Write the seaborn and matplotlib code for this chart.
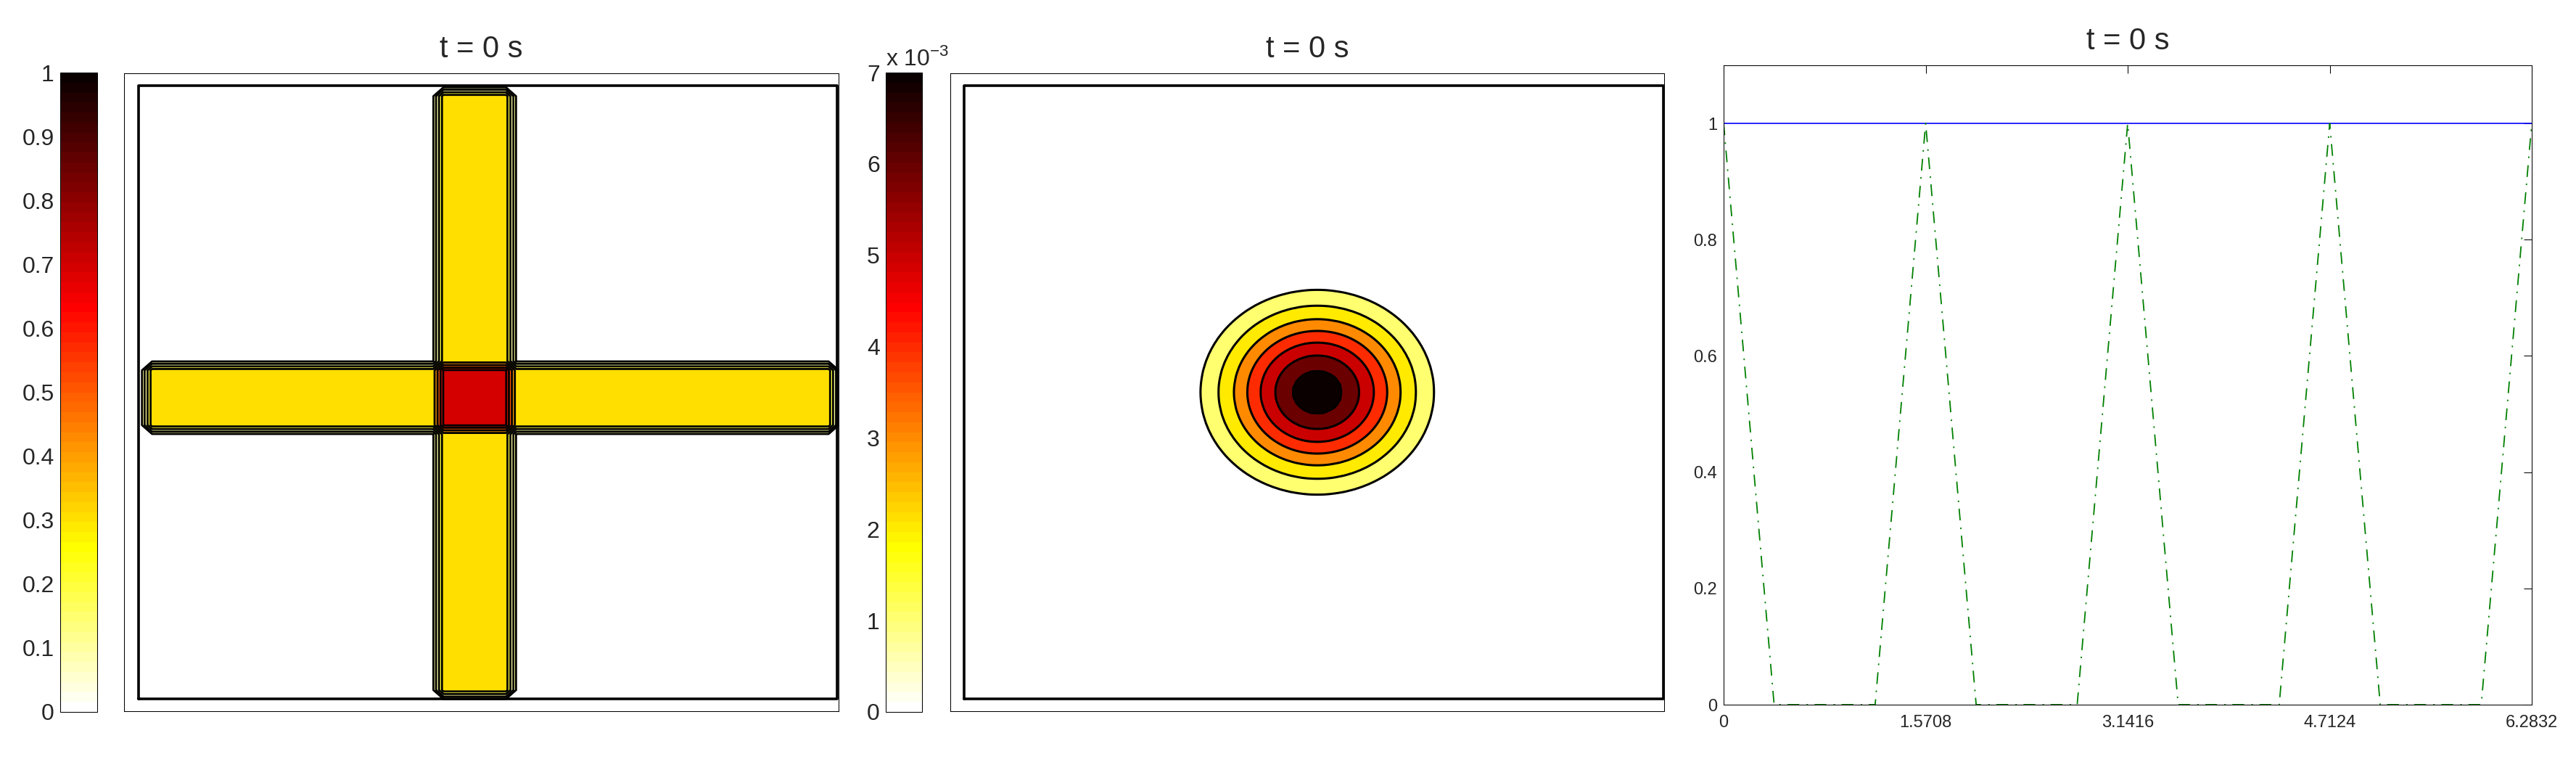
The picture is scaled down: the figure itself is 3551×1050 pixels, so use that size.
import numpy as np
import matplotlib
matplotlib.use("Agg")
import matplotlib.pyplot as plt
import matplotlib.ticker as mticker
from matplotlib.colors import Normalize
from matplotlib.cm import ScalarMappable
import seaborn as sns

sns.set_theme(style="white")
plt.rcParams["font.family"] = ["Liberation Sans", "DejaVu Sans"]
plt.rcParams["mathtext.fontset"] = "custom"
plt.rcParams["mathtext.rm"] = "Liberation Sans"
plt.rcParams["axes.edgecolor"] = "black"
plt.rcParams["axes.linewidth"] = 0.75

TITLE = "t = 0 s"

# panel 1: two crossing bars, sampled on a coarse grid
GRID_N = 68
GRID_STEP = 0.0149
GRID_X0 = 0.0044
GRID_Y0 = -0.0006
BAR_VALUE = 0.35
VBAR_COLS = [29, 35]
VBAR_ROWS = [1, 66]
HBAR_COLS = [1, 66]
HBAR_ROWS = [30, 36]
CROSS_LEVELS = [0.01, 0.1, 0.2, 0.3, 0.4, 0.5, 0.6, 0.69]
CROSS_FILL_VALUES = [0.1, 0.1, 0.2, 0.3, 0.4, 0.5, 0.6, 0.7]
CROSS_TICKS = [0, 0.1, 0.2, 0.3, 0.4, 0.5, 0.6, 0.7, 0.8, 0.9, 1]

BLOB_CENTER = [0.505, 0.5]
BLOB_RADII = [0.0, 0.035, 0.060, 0.081, 0.100, 0.119, 0.141, 0.167, 0.19]
BLOB_VALUES = [7.6e-3, 7e-3, 6e-3, 5e-3, 4e-3, 3e-3, 2e-3, 1e-3, 0.0]
BLOB_LEVELS = [1e-3, 2e-3, 3e-3, 4e-3, 5e-3, 6e-3, 7e-3]
BLOB_TICKS = [0, 1e-3, 2e-3, 3e-3, 4e-3, 5e-3, 6e-3, 7e-3]
BLOB_GRID_N = 241

# panel 3: lines
BASE_X = [0, 6.2832]
BASE_Y = [1, 1]
WAVE_X = [0, 0.3927, 1.1781, 1.5708, 1.9635, 2.7489, 3.1416,
          3.5343, 4.3197, 4.7124, 5.1051, 5.8905, 6.2832]
WAVE_Y = [1, 0, 0, 1, 0, 0, 1, 0, 0, 1, 0, 0, 1]
X_TICKS = [0, 1.5708, 3.1416, 4.7124, 6.2832]
X_TICK_LABELS = ["0", "1.5708", "3.1416", "4.7124", "6.2832"]
Y_TICKS = [0, 0.2, 0.4, 0.6, 0.8, 1]
Y_TICK_LABELS = ["0", "0.2", "0.4", "0.6", "0.8", "1"]

W, H = 3551, 1050
fig = plt.figure(figsize=(W / 100, H / 100), dpi=100)
fig.patch.set_facecolor("white")


def box(x0, y0, x1, y1):
    return [x0 / W, 1 - y1 / H, (x1 - x0) / W, (y1 - y0) / H]


cmap = matplotlib.colormaps["hot_r"].resampled(64)


def style_field_axes(ax):
    ax.set_xticks([])
    ax.set_yticks([])
    for s in ax.spines.values():
        s.set_linewidth(0.75)
        s.set_color("black")
    ax.plot([0, 1, 1, 0, 0], [0, 0, 1, 1, 0], color="black", lw=2.6)
    ax.set_title(TITLE, fontsize=30, pad=16)


def style_cbar(cb, fmt):
    cax = cb.ax
    cax.yaxis.set_ticks_position("both")
    cax.tick_params(direction="in", length=4, width=0.75, color="black",
                    labelleft=True, labelright=False, labelsize=23, pad=6)
    cax.yaxis.set_major_formatter(mticker.FuncFormatter(fmt))
    cb.outline.set_linewidth(0.75)
    cb.outline.set_edgecolor("black")


# ---------- panel 1
gx = GRID_X0 + GRID_STEP * np.arange(GRID_N)
gy = GRID_Y0 + GRID_STEP * np.arange(GRID_N)
Z = np.zeros((GRID_N, GRID_N))
Z[VBAR_ROWS[0]:VBAR_ROWS[1] + 1, VBAR_COLS[0]:VBAR_COLS[1] + 1] += BAR_VALUE
Z[HBAR_ROWS[0]:HBAR_ROWS[1] + 1, HBAR_COLS[0]:HBAR_COLS[1] + 1] += BAR_VALUE

norm1 = Normalize(0, 1)
ax1 = fig.add_axes(box(171, 101, 1156, 980))
ax1.contourf(gx, gy, Z, levels=CROSS_LEVELS + [10],
             colors=[cmap(norm1(v)) for v in CROSS_FILL_VALUES])
ax1.contour(gx, gy, Z, levels=CROSS_LEVELS, colors="black", linewidths=2.0)
ax1.set_xlim(-0.0208, 1.0021)
ax1.set_ylim(-0.0201, 1.0201)
style_field_axes(ax1)

cax1 = fig.add_axes(box(83, 100, 134, 981))
cb1 = fig.colorbar(ScalarMappable(norm=norm1, cmap=cmap), cax=cax1, ticks=CROSS_TICKS)
style_cbar(cb1, lambda v, p: f"{v:g}")

# ---------- panel 2
bx = np.linspace(0, 1, BLOB_GRID_N)
XX, YY = np.meshgrid(bx, bx)
R = np.hypot(XX - BLOB_CENTER[0], YY - BLOB_CENTER[1])
B = np.interp(R, BLOB_RADII, BLOB_VALUES)

norm2 = Normalize(0, 7e-3)
ax2 = fig.add_axes(box(1310, 101, 2294, 980))
ax2.contourf(bx, bx, B, levels=BLOB_LEVELS + [1.0],
             colors=[cmap(norm2(v)) for v in BLOB_LEVELS])
ax2.contour(bx, bx, B, levels=BLOB_LEVELS, colors="black", linewidths=2.2)
ax2.set_xlim(-0.0197, 1.001)
ax2.set_ylim(-0.0201, 1.0201)
style_field_axes(ax2)

cax2 = fig.add_axes(box(1221, 100, 1271, 981))
cb2 = fig.colorbar(ScalarMappable(norm=norm2, cmap=cmap), cax=cax2, ticks=BLOB_TICKS)
style_cbar(cb2, lambda v, p: f"{v * 1e3:g}")
fig.text(1221 / W, 1 - 90 / H, r"x 10$^{\mathrm{-3}}$", fontsize=23,
         ha="left", va="baseline")

# ---------- panel 3
ax3 = fig.add_axes(box(2376, 90, 3490, 971))
sns.lineplot(x=BASE_X, y=BASE_Y, ax=ax3, color=(0, 0, 1), lw=1.2)
sns.lineplot(x=WAVE_X, y=WAVE_Y, ax=ax3, color=(0, 0.5, 0), lw=1.3,
             linestyle=(0, (9.0, 5.5, 1.2, 5.0)))
ax3.set_xlim(0, 6.2832)
ax3.set_ylim(0, 1.1)
ax3.set_xticks(X_TICKS)
ax3.set_xticklabels(X_TICK_LABELS)
ax3.set_yticks(Y_TICKS)
ax3.set_yticklabels(Y_TICK_LABELS)
ax3.tick_params(direction="in", length=8, width=0.75, color="black",
                top=True, right=True, labelsize=17)
ax3.tick_params(axis="x", pad=10)
ax3.tick_params(axis="y", pad=6.5)
ax3.set_xlabel("")
ax3.set_ylabel("")
ax3.set_title(TITLE, fontsize=30, pad=16)

fig.savefig("out.png", dpi=100, facecolor="white")
